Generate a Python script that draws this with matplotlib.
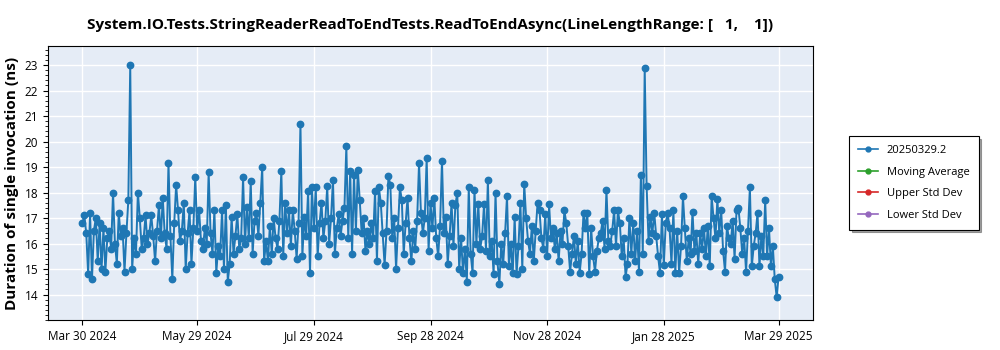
"""Duration of single invocation over time for ReadToEndAsync benchmark."""
import matplotlib
matplotlib.use("Agg")
import matplotlib.pyplot as plt
import matplotlib.dates as mdates
import pandas as pd

plt.rcParams["font.family"] = ["Open Sans", "DejaVu Sans"]

TITLE = "System.IO.Tests.StringReaderReadToEndTests.ReadToEndAsync(LineLengthRange: [   1,    1])"
SERIES_LABEL = "20250329.2"
START_DATE = "2024-03-30"

# one value per day (ns)
seg_mar_may = [16.8, 17.1, 16.4, 14.8, 17.2, 14.6, 16.5, 17.0, 15.3, 16.8,
               15.0, 16.6, 14.9, 16.2, 16.5, 15.8, 18.0, 16.0, 15.2, 17.2,
               16.3, 16.6, 14.9, 16.4, 17.7, 23.0, 15.0, 16.2, 15.6, 18.0,
               17.0, 15.8, 16.2, 17.1, 16.0, 16.4, 17.1, 16.3, 15.3, 16.5,
               17.5, 16.2, 17.8, 16.4, 15.8, 19.15, 16.3, 14.6, 16.8, 18.3,
               17.3, 16.1, 16.5, 17.6, 15.0, 16.4, 17.3, 15.2, 16.6, 18.6,
               16.5]
seg_may_jul = [17.3, 16.1, 15.8, 16.6, 16.0, 18.8, 16.4, 15.6, 17.3, 14.85,
               15.9, 15.5, 17.3, 15.0, 17.5, 14.5, 15.2, 17.05, 15.6, 16.3,
               17.15, 15.8, 16.2, 18.6, 16.0, 17.45, 16.2, 18.45, 15.6, 16.9,
               17.2, 16.3, 17.6, 19.0, 15.3, 16.1, 15.3, 16.7, 15.6, 17.0,
               16.2, 15.8, 16.9, 18.85, 15.5, 17.6, 16.4, 17.3, 15.9, 17.3,
               16.5, 15.4, 16.8, 20.7, 15.5, 17.05, 16.3, 18.05, 14.85, 18.2,
               16.6]
seg_jul_sep = [18.2, 15.5, 16.8, 17.6, 16.2, 16.9, 18.25, 16.0, 17.0, 18.5,
               15.6, 16.6, 17.15, 16.3, 16.9, 17.4, 19.83, 16.2, 18.85, 15.6,
               18.7, 16.5, 18.9, 17.7, 16.4, 17.0, 15.7, 16.5, 16.0, 16.8,
               16.2, 18.05, 15.3, 18.2, 17.6, 16.4, 15.15, 16.5, 18.65, 18.3,
               16.2, 17.0, 15.0, 16.6, 18.2, 17.7, 15.6, 16.8, 17.8, 16.2,
               15.3, 16.5, 15.8, 16.9, 19.15, 17.2, 16.4, 17.0, 19.35, 15.7,
               17.6]
seg_sep_nov = [16.6, 17.8, 16.2, 15.5, 16.7, 19.25, 16.4, 17.05, 15.2, 16.3,
               17.6, 15.9, 17.5, 18.0, 15.0, 16.2, 14.85, 15.8, 14.5, 18.2,
               15.6, 14.85, 18.1, 16.0, 17.55, 15.8, 16.3, 17.55, 15.7, 18.5,
               15.5, 16.1, 14.8, 18.0, 15.3, 14.4, 16.0, 15.2, 16.4, 17.85,
               15.1, 16.0, 14.85, 17.05, 14.8, 15.9, 17.6, 15.0, 18.35, 17.0,
               16.1, 15.6, 16.7, 15.3, 16.5, 17.6, 17.3, 16.2, 15.8, 17.15,
               15.5]
seg_nov_jan = [17.55, 16.2, 16.6, 15.8, 16.4, 15.3, 16.5, 16.0, 17.3, 16.8,
               15.9, 14.9, 15.6, 16.3, 15.2, 16.1, 14.85, 15.6, 17.2, 16.6,
               17.2, 14.8, 16.6, 15.5, 14.9, 15.7, 16.2, 16.4, 16.9, 15.8,
               18.1, 16.1, 15.9, 16.5, 17.3, 15.9, 17.3, 16.8, 15.5, 16.2,
               14.7, 15.2, 17.0, 15.6, 16.8, 15.3, 16.5, 14.9, 18.7, 15.6,
               22.9, 18.25, 16.1, 17.05, 16.4, 17.2, 16.3, 15.5, 14.85, 17.15,
               15.15]
seg_jan_mar = [16.8, 17.2, 16.6, 15.2, 17.3, 14.85, 16.5, 14.85, 15.9, 17.85,
               16.6, 15.3, 16.2, 15.6, 17.25, 15.7, 16.4, 15.2, 16.4, 15.8,
               16.6, 15.5, 16.7, 15.1, 17.85, 17.0, 16.2, 17.75, 16.4, 17.3,
               15.7, 14.9, 16.7, 16.2, 16.0, 16.9, 15.4, 17.3, 17.4, 16.6,
               15.6, 16.2, 14.9, 16.5, 18.2, 15.1, 15.9, 16.4, 17.2, 15.1,
               16.3, 15.5, 17.7, 15.5, 16.6, 15.1, 15.9, 14.6, 13.9, 14.7]

values = seg_mar_may + seg_may_jul + seg_jul_sep + seg_sep_nov + seg_nov_jan + seg_jan_mar
dates = pd.date_range(START_DATE, periods=len(values), freq="D")

tick_dates = pd.to_datetime(["2024-03-30", "2024-05-29", "2024-07-29", "2024-09-28",
                             "2024-11-28", "2025-01-28", "2025-03-29"])
y_ticks = [14, 15, 16, 17, 18, 19, 20, 21, 22, 23]

fig = plt.figure(figsize=(10, 3.5), dpi=100)
ax = fig.add_axes([0.048, 0.0857, 0.765, 0.783])
ax.set_facecolor("#e5ecf6")

ax.plot(dates, values, color="#1f77b4", lw=1.4, marker="o", ms=4.6,
        label=SERIES_LABEL, zorder=3)
ax.plot([], [], color="#2ca02c", lw=1.2, marker="o", ms=3.5, label="Moving Average")
ax.plot([], [], color="#d62728", lw=1.2, marker="o", ms=3.5, label="Upper Std Dev")
ax.plot([], [], color="#9467bd", lw=1.2, marker="o", ms=3.5, label="Lower Std Dev")

ax.set_xlim(pd.Timestamp("2024-03-12"), pd.Timestamp("2025-04-16"))
ax.set_ylim(13.0, 23.75)
ax.set_xticks(tick_dates)
ax.xaxis.set_major_formatter(mdates.DateFormatter("%b %d %Y"))
ax.set_yticks(y_ticks)
ax.yaxis.set_minor_locator(matplotlib.ticker.MultipleLocator(0.2))
ax.tick_params(axis="both", labelsize=8.5)
ax.grid(True, color="white", lw=1)
ax.set_axisbelow(True)
for s in ax.spines.values():
    s.set_color("black")

ax.set_ylabel("Duration of single invocation (ns)", fontsize=11, fontweight="bold")
ax.set_title(TITLE, fontsize=11, fontweight="bold", pad=12)

# legend handles: keep the main series marker small like the others
leg = ax.legend(loc="center left", bbox_to_anchor=(1.04, 0.50), fontsize=8,
                fancybox=False, shadow=True, edgecolor="black", framealpha=1,
                borderpad=0.8, labelspacing=0.95, handlelength=1.8, markerscale=1.0)
leg.legend_handles[0].set_markersize(3.5)
leg.legend_handles[0].set_linewidth(1.2)
leg.get_frame().set_linewidth(0.8)

fig.savefig("out.png", dpi=100)
